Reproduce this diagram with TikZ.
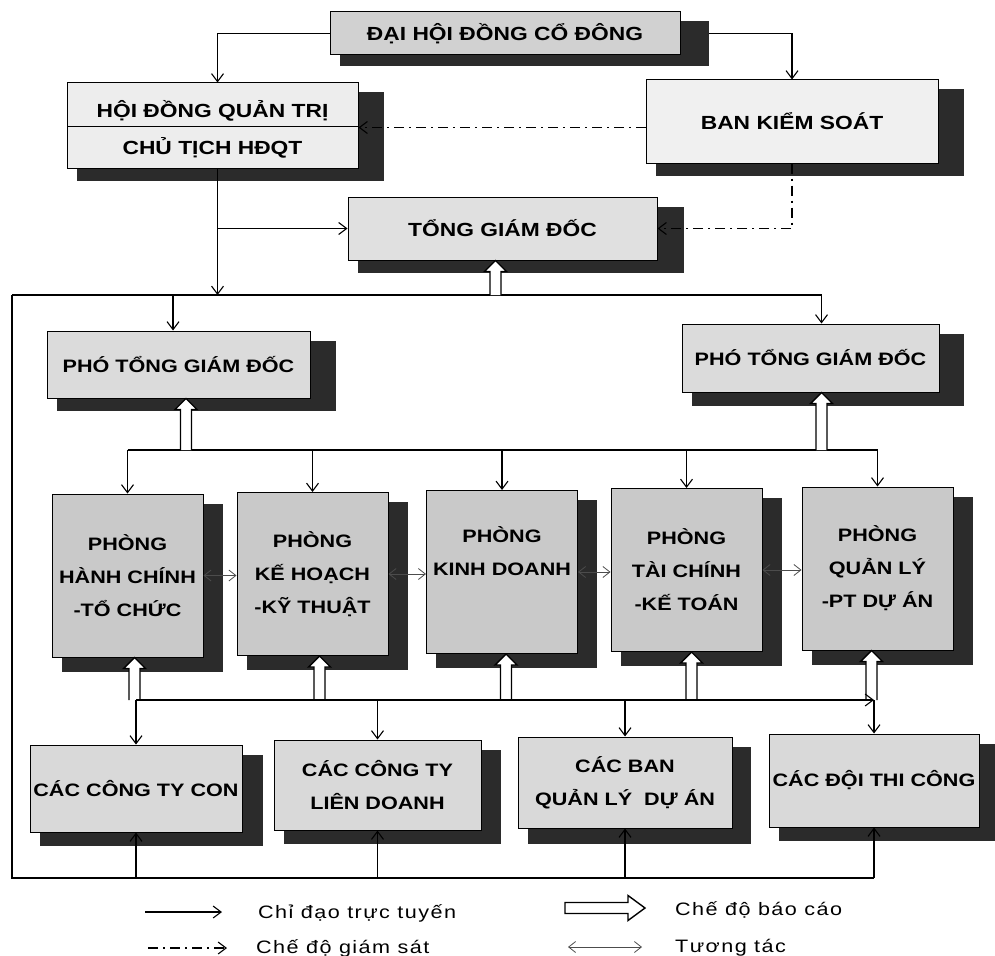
\documentclass[tikz,border=0pt]{standalone}
\usepackage{fontspec}
\setmainfont{Liberation Sans}[FakeStretch=1.2]
\newfontfamily\legfont{Liberation Sans}[FakeStretch=1.2,LetterSpace=8]
\usetikzlibrary{arrows.meta,backgrounds,calc}
\definecolor{shadowc}{gray}{0.17}
\definecolor{fdh}{gray}{0.82}
\definecolor{fhd}{gray}{0.93}
\definecolor{fbks}{gray}{0.94}
\definecolor{ftgd}{gray}{0.88}
\definecolor{fpt}{gray}{0.86}
\definecolor{fph}{gray}{0.79}
\definecolor{fbot}{gray}{0.85}
\newcommand\dropsh[3]{\fill[shadowc] ([shift={(10,10)}]#1.north west) rectangle ([shift={(#2,#3)}]#1.south east);}
% hollow report arrow pointing up, from coordinate #1 (below) to coordinate #2 (above)
\newcommand\repup[2]{\draw[repl] ($(#1)+(-5.5,0)$) -- ($(#2)+(-5.5,11)$) -- ($(#2)+(-11,11)$) -- (#2) -- ($(#2)+(11,11)$) -- ($(#2)+(5.5,11)$) -- ($(#1)+(5.5,0)$);}
\begin{document}
\begin{tikzpicture}[x=1pt,y=-1pt,
  ln/.style={line width=1.1pt},
  arr/.style={ln,-{Straight Barb[length=8pt,width=12pt]}},
  sup/.style={ln,dash pattern=on 10pt off 5pt on 2pt off 5pt,-{Straight Barb[length=8pt,width=12pt]}},
  repl/.style={line width=1.4pt,fill=white,line join=miter},
  inter/.style={line width=0.8pt,black!70,{Straight Barb[length=7pt,width=11pt]}-{Straight Barb[length=7pt,width=11pt]}},
  bx/.style={draw,line width=1pt,inner sep=0pt,align=center,font=\bfseries\fontsize{18}{33}\selectfont},
  bxl/.style={bx,font=\bfseries\fontsize{19}{33}\selectfont},
  leg/.style={inner sep=0pt,font=\legfont\fontsize{18}{22}\selectfont},
]
\useasboundingbox (0,0) rectangle (995,955);
% boxes
\node[bxl,fill=fdh,minimum width=350,minimum height=43] (dh) at (505,33.5) {ĐẠI HỘI ĐỒNG CỔ ĐÔNG};
\node[bxl,fill=fhd,minimum width=291,minimum height=44,text height=25,text depth=0] (hdA) at (212.5,105) {HỘI ĐỒNG QUẢN TRỊ};
\node[bxl,fill=fhd,minimum width=291,minimum height=41] (hdB) at (212.5,147.5) {CHỦ TỊCH HĐQT};
\node[bxl,fill=fbks,minimum width=292,minimum height=83] (bks) at (792,121.5) {BAN KIỂM SOÁT};
\node[bxl,fill=ftgd,minimum width=309,minimum height=63] (tgd) at (502.5,228.5) {TỔNG GIÁM ĐỐC};
\node[bx,fill=fpt,minimum width=263,minimum height=67] (ptl) at (178.5,364.5) {PHÓ TỔNG GIÁM ĐỐC};
\node[bx,fill=fpt,minimum width=257,minimum height=68] (ptr) at (810.5,358) {PHÓ TỔNG GIÁM ĐỐC};
\node[bx,fill=fph,minimum width=151,minimum height=163] (p1) at (127.5,575.5) {PHÒNG\\HÀNH CHÍNH\\-TỔ CHỨC};
\node[bx,fill=fph,minimum width=151,minimum height=163] (p2) at (312.5,574) {PHÒNG\\KẾ HOẠCH\\-KỸ THUẬT};
\node[bx,fill=fph,minimum width=151,minimum height=163] (p3) at (502,572) {PHÒNG\\KINH DOANH\\\strut};
\node[bx,fill=fph,minimum width=151,minimum height=163] (p4) at (686.5,570) {PHÒNG\\TÀI CHÍNH\\-KẾ TOÁN};
\node[bx,fill=fph,minimum width=151,minimum height=163] (p5) at (877.5,568.5) {PHÒNG\\QUẢN LÝ\\-PT DỰ ÁN};
\node[bx,fill=fbot,minimum width=212,minimum height=87] (b1) at (136,788.5) {CÁC CÔNG TY CON};
\node[bx,fill=fbot,minimum width=207,minimum height=90] (b2) at (377.5,785) {CÁC CÔNG TY\\LIÊN DOANH};
\node[bx,fill=fbot,minimum width=214,minimum height=91] (b3) at (625,782.5) {CÁC BAN\\QUẢN LÝ~ DỰ ÁN};
\node[bx,fill=fbot,minimum width=210,minimum height=93] (b4) at (874,780.5) {CÁC ĐỘI THI CÔNG};
% shadows
\begin{scope}[on background layer]
\dropsh{dh}{28}{11}
\fill[shadowc] ([shift={(10,10)}]hdA.north west) rectangle ([shift={(25,12)}]hdB.south east);
\dropsh{bks}{25}{12}
\dropsh{tgd}{26}{12}
\dropsh{ptl}{25}{12}
\dropsh{ptr}{24}{13}
\foreach \p in {p1,p2,p3,p4,p5}{\dropsh{\p}{19}{14}}
\dropsh{b1}{20}{13}
\dropsh{b2}{19}{13}
\dropsh{b3}{18}{15}
\dropsh{b4}{16}{13}
\end{scope}
% helper coordinates
\coordinate (bus1) at (0,295);
\coordinate (bus2) at (0,450);
\coordinate (bus3) at (0,700);
\coordinate (bus4) at (0,878);
\coordinate (lft) at (12,0);
\coordinate (hdN) at ([xshift=5]hdA.north);
\coordinate (hdS) at ([xshift=5]hdB.south);
\coordinate (dhE) at ([xshift=28]dh.east);
\coordinate (tgdB) at ([xshift=-7]tgd.south);
\coordinate (ptlT) at ([xshift=-5.5]ptl.north);
\coordinate (ptlB) at ([xshift=7.5]ptl.south);
\coordinate (ptrT) at ([xshift=11]ptr.north);
\coordinate (ptrB) at ([xshift=11]ptr.south);
\coordinate (p1B) at ([xshift=7]p1.south);
\coordinate (p2B) at ([xshift=7]p2.south);
\coordinate (p3B) at ([xshift=4]p3.south);
\coordinate (p4B) at ([xshift=5]p4.south);
\coordinate (p5B) at ([xshift=-6]p5.south);
\coordinate (tgdBs) at (tgdB |- bus1);
\coordinate (ptlBs) at (ptlB |- bus2);
\coordinate (ptrBs) at (ptrB |- bus2);
\foreach \p in {p1B,p2B,p3B,p4B,p5B}{\coordinate (\p s) at (\p |- bus3);}
% top connectors
\draw[arr] (dh.west) -| (hdN);
\draw[arr] (dhE) -| (bks.north);
\draw[sup] (bks.west |- hdA.south east) -- (hdA.south east);
\draw[sup] (bks.south) |- (tgd.east);
\draw[arr] (hdS) -- (hdS |- bus1);
\draw[arr] (hdS |- tgd.west) -- (tgd.west);
% main bus and loop
\draw[ln] (lft |- bus1) -- (ptrT |- bus1);
\draw[ln] (lft |- bus1) -- (lft |- bus4) -- (b4.south |- bus4);
\repup{tgdBs}{tgdB}
\draw[arr] (ptlT |- bus1) -- (ptlT);
\draw[arr] (ptrT |- bus1) -- (ptrT);
% departments bus
\draw[ln] (p1.north |- bus2) -- (p5.north |- bus2);
\foreach \p in {p1,p2,p3,p4,p5}{\draw[arr] (\p.north |- bus2) -- (\p.north);}
\repup{ptlBs}{ptlB}
\repup{ptrBs}{ptrB}
% interaction
\draw[inter] (p1.east) -- (p2.west |- p1.east);
\draw[inter] (p2.east) -- (p3.west |- p2.east);
\draw[inter] (p3.east) -- (p4.west |- p3.east);
\draw[inter] (p4.east) -- (p5.west |- p4.east);
% lower bus
\foreach \p in {p1B,p2B,p3B,p4B,p5B}{\repup{\p s}{\p}}
\draw[arr] (b1.north |- bus3) -- (b4.north |- bus3);
\foreach \b in {b1,b2,b3,b4}{\draw[arr] (\b.north |- bus3) -- (\b.north);}
\foreach \b in {b1,b2,b3,b4}{\draw[arr] (\b.south |- bus4) -- (\b.south);}
% legend
\coordinate (l1a) at (145,912); \coordinate (l1b) at (222,912);
\coordinate (l2a) at (148,948); \coordinate (l2b) at (227,948);
\coordinate (l3a) at (565,908); \coordinate (l3b) at (645,908);
\coordinate (l4a) at (568,947); \coordinate (l4b) at (642,947);
\draw[arr] (l1a) -- (l1b);
\draw[sup] (l2a) -- (l2b);
\draw[repl] ($(l3a)+(0,-5.5)$) -- ($(l3b)+(-17,-5.5)$) -- ($(l3b)+(-17,-12.5)$) -- (l3b) -- ($(l3b)+(-17,12.5)$) -- ($(l3b)+(-17,5.5)$) -- ($(l3a)+(0,5.5)$) -- cycle;
\draw[inter] (l4a) -- (l4b);
\node[leg,anchor=base west] (t1) at (258,918) {Chỉ đạo trực tuyến};
\node[leg,anchor=base west] (t2) at (256,953) {Chế độ giám sát};
\node[leg,anchor=base west] (t3) at (675,915) {Chế độ báo cáo};
\node[leg,anchor=base west] (t4) at (675,952) {Tương tác};
\end{tikzpicture}
\end{document}
